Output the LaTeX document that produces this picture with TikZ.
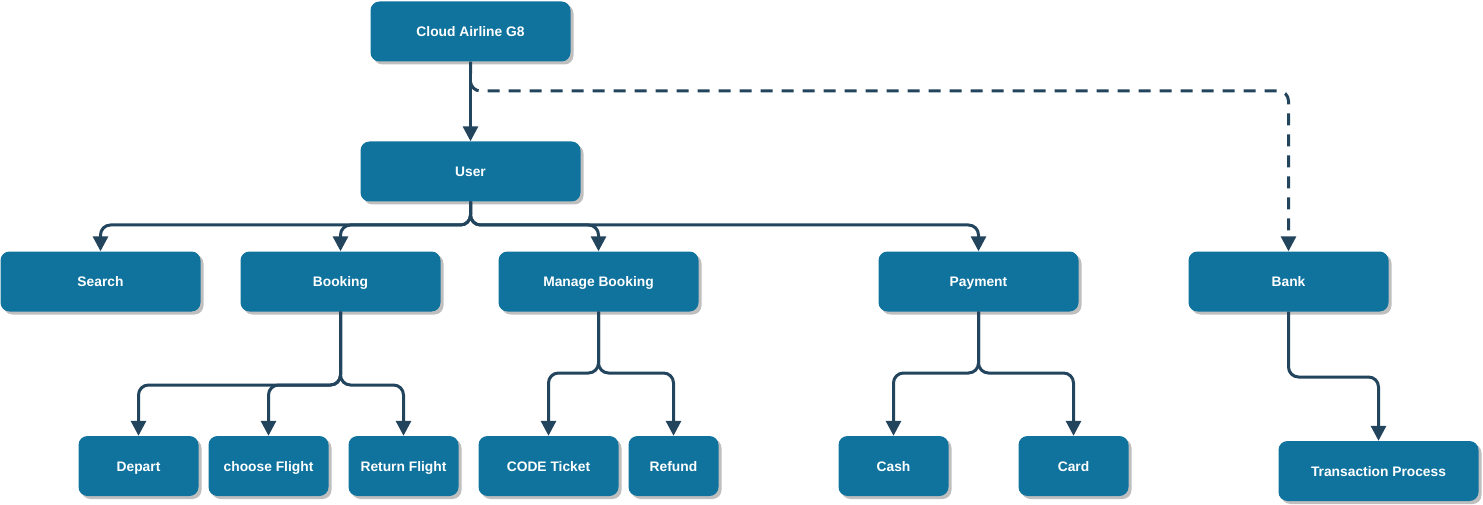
\documentclass[tikz,border=0pt]{standalone}
\usepackage{fontspec}
\setmainfont{Liberation Sans}
\usetikzlibrary{arrows.meta,shadows}
\definecolor{boxblue}{HTML}{10739E}
\definecolor{linec}{HTML}{23445D}
\tikzset{
  box/.style={rectangle, rounded corners=9pt, fill=boxblue, draw=none,
    minimum height=60pt, inner sep=0pt, text=white,
    text height=11.5pt, text depth=1.5pt,
    font=\fontsize{13.8}{16}\selectfont\bfseries,
    drop shadow={shadow xshift=3pt, shadow yshift=-3pt, fill=black, opacity=0.25}},
  conn/.style={draw=linec, line width=3pt, rounded corners=10pt,
    -{Triangle[width=15pt,length=15pt]}},
  dashedconn/.style={conn, dash pattern=on 12pt off 9pt}
}
\begin{document}
\begin{tikzpicture}[x=1pt,y=-1pt]
\useasboundingbox (0,0) rectangle (1483,505);
% top
\node[box, minimum width=200pt] (cloud) at (470.5,31.5) {Cloud Airline G8};
\node[box, minimum width=220pt] (user) at (470.5,171.5) {User};
% level 2
\node[box, minimum width=200pt] (search) at (100.5,281.5) {Search};
\node[box, minimum width=200pt] (booking) at (340.5,281.5) {Booking};
\node[box, minimum width=200pt] (manage) at (598.5,281.5) {Manage Booking};
\node[box, minimum width=200pt] (payment) at (978.5,281.5) {Payment};
\node[box, minimum width=200pt] (bank) at (1288.5,281.5) {Bank};
% level 3
\node[box, minimum width=120pt] (depart) at (138.5,466) {Depart};
\node[box, minimum width=120pt] (choose) at (268.5,466) {choose Flight};
\node[box, minimum width=110pt] (return) at (403.5,466) {Return Flight};
\node[box, minimum width=140pt] (code) at (548.5,466) {CODE Ticket};
\node[box, minimum width=90pt] (refund) at (673.5,466) {Refund};
\node[box, minimum width=110pt] (cash) at (893.5,466) {Cash};
\node[box, minimum width=110pt] (card) at (1073.5,466) {Card};
\node[box, minimum width=200pt] (trans) at (1378.5,471) {Transaction Process};
% junctions
\coordinate (jc) at (470.5,91);
\coordinate (ju) at (470.5,225);
\coordinate (jb) at (340.5,385);
\coordinate (jm) at (598.5,373);
\coordinate (jp) at (978.5,373);
\coordinate (jk) at (1288.5,377);
% connectors
\draw[dashedconn] (cloud.south) -- (jc) -| (bank.north);
\draw[conn] (cloud.south) -- (user.north);
\draw[conn] (user.south) -- (ju) -| (search.north);
\draw[conn] (user.south) -- (ju) -| (booking.north);
\draw[conn] (user.south) -- (ju) -| (manage.north);
\draw[conn] (user.south) -- (ju) -| (payment.north);
\draw[conn] (booking.south) -- (jb) -| (depart.north);
\draw[conn] (booking.south) -- (jb) -| (choose.north);
\draw[conn] (booking.south) -- (jb) -| (return.north);
\draw[conn] (manage.south) -- (jm) -| (code.north);
\draw[conn] (manage.south) -- (jm) -| (refund.north);
\draw[conn] (payment.south) -- (jp) -| (cash.north);
\draw[conn] (payment.south) -- (jp) -| (card.north);
\draw[conn] (bank.south) -- (jk) -| (trans.north);
\end{tikzpicture}
\end{document}
